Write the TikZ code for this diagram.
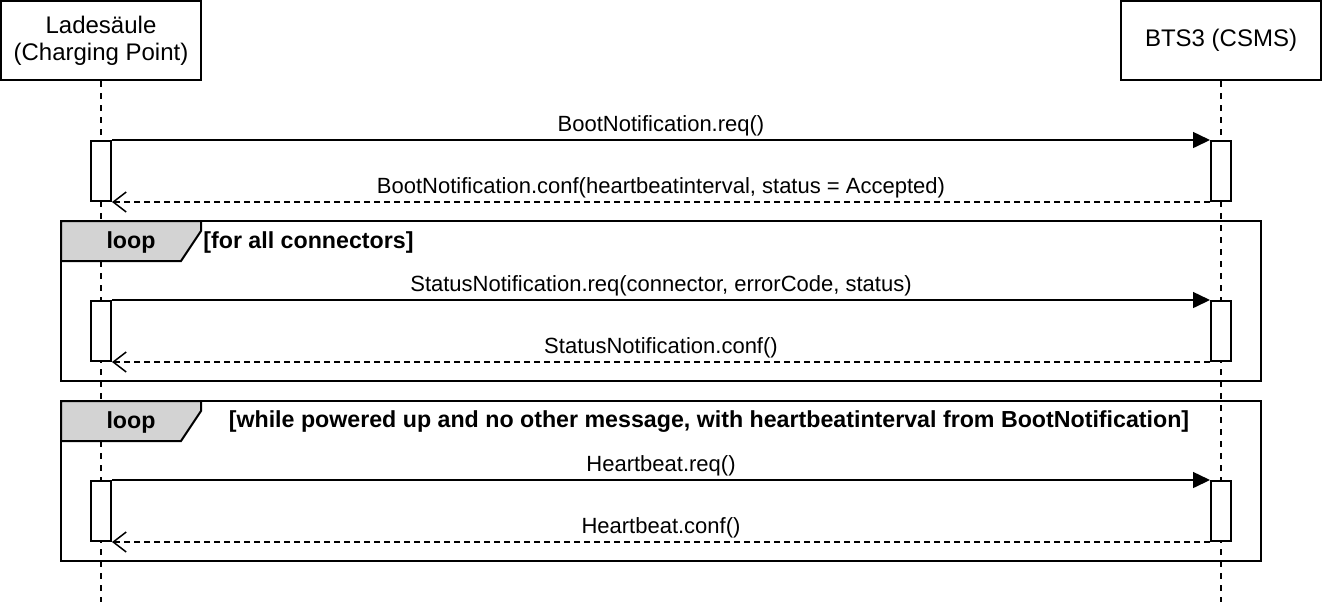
\documentclass[tikz,border=0pt]{standalone}
\usepackage{fontspec}
\setmainfont{Liberation Sans}
\usetikzlibrary{arrows.meta, positioning}
\definecolor{tabgray}{RGB}{211,211,211}

\begin{document}
\begin{tikzpicture}[x=0.5pt, y=-0.5pt, font=\fontsize{11}{13}\selectfont,
    actor/.style={draw, line width=1pt, minimum width=100pt, minimum height=39.5pt, align=center, font=\fontsize{12}{13.5}\selectfont},
    lifeline/.style={line width=1pt, dash pattern=on 3pt off 3pt},
    activation/.style={draw, fill=white, line width=1pt, minimum width=10pt, minimum height=30pt, inner sep=0pt},
    req/.style={line width=0.75pt, -{Triangle[length=8.5pt,width=8pt]}},
    conf/.style={line width=0.75pt, dash pattern=on 3pt off 2pt, -{Straight Barb[length=6.5pt,width=10pt]}},
    msg/.style={anchor=base, inner sep=0pt, yshift=4.5pt},
    frame/.style={draw, line width=1pt},
    tab/.style={draw, fill=tabgray, line width=1pt},
    guard/.style={font=\fontsize{11.6}{13}\selectfont\bfseries, inner sep=0pt}]
    \useasboundingbox (0,0) rectangle (1322,602);

    % Actors
    \node[actor] (cp) at (101,40.5) {Ladesäule\\(Charging Point)};
    \node[actor] (csms) at (1221,40.5) {BTS3 (CSMS)};

    % Lifelines
    \coordinate (cpEnd) at (101,602);
    \coordinate (csmsEnd) at (1221,602);
    \draw[lifeline] (cp.south) -- (cpEnd);
    \draw[lifeline] (csms.south) -- (csmsEnd);

    % Boot notification
    \node[activation] (cpAct1) at (101,171) {};
    \node[activation] (csmsAct1) at (1221,171) {};
    \draw[req] (cpAct1.north east) -- (csmsAct1.north west) node[msg, midway] {BootNotification.req()};
    \draw[conf] (csmsAct1.south west) -- (cpAct1.south east) node[msg, midway] {BootNotification.conf(heartbeatinterval, status = Accepted)};

    % Loop over connectors
    \draw[frame] (61,221) rectangle (1261,381);
    \filldraw[tab] (61,221) -- (201,221) -- (201,231) -- (181,261) -- (61,261) -- cycle;
    \node[guard] (loopA) at (131,242) {loop};
    \node[guard, anchor=west] (guardA) at (203,242) {[for all connectors]};
    \node[activation] (cpAct2) at (101,331) {};
    \node[activation] (csmsAct2) at (1221,331) {};
    \draw[req] (cpAct2.north east) -- (csmsAct2.north west) node[msg, midway] {StatusNotification.req(connector, errorCode, status)};
    \draw[conf] (csmsAct2.south west) -- (cpAct2.south east) node[msg, midway] {StatusNotification.conf()};

    % Heartbeat loop
    \draw[frame] (61,401) rectangle (1261,561);
    \filldraw[tab] (61,401) -- (201,401) -- (201,411) -- (181,441) -- (61,441) -- cycle;
    \node[guard] (loopB) at (131,422) {loop};
    \node[guard] (guardB) at (709,422) {[while powered up and no other message, with heartbeatinterval from BootNotification]};
    \node[activation] (cpAct3) at (101,511) {};
    \node[activation] (csmsAct3) at (1221,511) {};
    \draw[req] (cpAct3.north east) -- (csmsAct3.north west) node[msg, midway] {Heartbeat.req()};
    \draw[conf] (csmsAct3.south west) -- (cpAct3.south east) node[msg, midway] {Heartbeat.conf()};
\end{tikzpicture}
\end{document}
